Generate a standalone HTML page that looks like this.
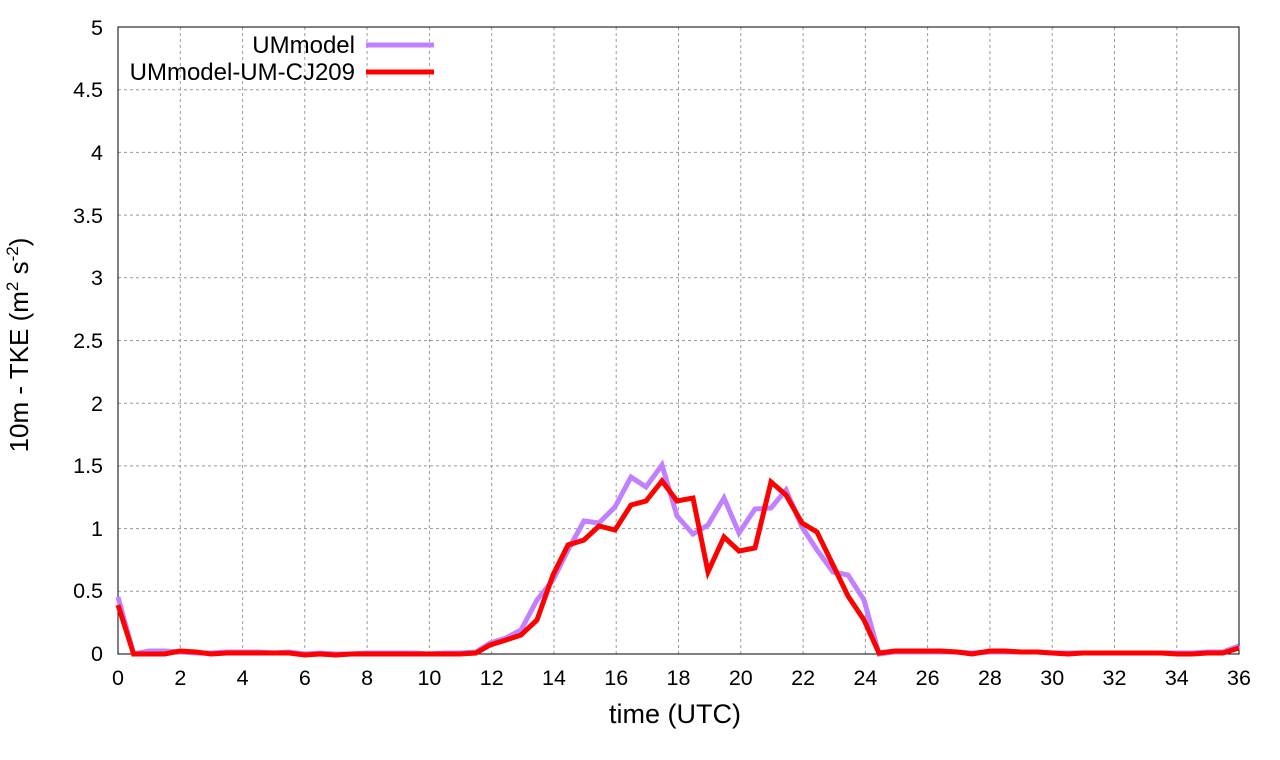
<!DOCTYPE html>
<html><head><style>body{margin:0;background:#fff}svg{display:block}text{font-family:"Liberation Sans",sans-serif;fill:#000}</style></head><body>
<svg width="1280" height="760" xmlns="http://www.w3.org/2000/svg">
<g stroke="#999" stroke-width="1" stroke-dasharray="3,3">
<line x1="118" x2="1239" y1="591.3" y2="591.3"/><line x1="118" x2="1239" y1="528.6" y2="528.6"/><line x1="118" x2="1239" y1="465.9" y2="465.9"/><line x1="118" x2="1239" y1="403.2" y2="403.2"/><line x1="118" x2="1239" y1="340.5" y2="340.5"/><line x1="118" x2="1239" y1="277.8" y2="277.8"/><line x1="118" x2="1239" y1="215.1" y2="215.1"/><line x1="118" x2="1239" y1="152.4" y2="152.4"/><line x1="118" x2="1239" y1="89.7" y2="89.7"/>
<line x1="180.3" x2="180.3" y1="27" y2="654"/><line x1="242.6" x2="242.6" y1="27" y2="654"/><line x1="304.8" x2="304.8" y1="27" y2="654"/><line x1="367.1" x2="367.1" y1="27" y2="654"/><line x1="429.4" x2="429.4" y1="27" y2="654"/><line x1="491.7" x2="491.7" y1="27" y2="654"/><line x1="554" x2="554" y1="27" y2="654"/><line x1="616.2" x2="616.2" y1="27" y2="654"/><line x1="678.5" x2="678.5" y1="27" y2="654"/><line x1="740.8" x2="740.8" y1="27" y2="654"/><line x1="803.1" x2="803.1" y1="27" y2="654"/><line x1="865.4" x2="865.4" y1="27" y2="654"/><line x1="927.6" x2="927.6" y1="27" y2="654"/><line x1="989.9" x2="989.9" y1="27" y2="654"/><line x1="1052.2" x2="1052.2" y1="27" y2="654"/><line x1="1114.5" x2="1114.5" y1="27" y2="654"/><line x1="1176.8" x2="1176.8" y1="27" y2="654"/>
</g>
<rect x="118" y="27" width="1121" height="627" fill="none" stroke="#000" stroke-width="1"/>
<g font-size="21.5" text-anchor="end">
<text x="103" y="661">0</text><text x="103" y="598">0.5</text><text x="103" y="536">1</text><text x="103" y="473">1.5</text><text x="103" y="411">2</text><text x="103" y="348">2.5</text><text x="103" y="285">3</text><text x="103" y="223">3.5</text><text x="103" y="160">4</text><text x="103" y="97">4.5</text><text x="103" y="35">5</text>
</g>
<g font-size="21.5" text-anchor="middle">
<text x="118" y="685">0</text><text x="180.3" y="685">2</text><text x="242.6" y="685">4</text><text x="304.8" y="685">6</text><text x="367.1" y="685">8</text><text x="429.4" y="685">10</text><text x="491.7" y="685">12</text><text x="554" y="685">14</text><text x="616.2" y="685">16</text><text x="678.5" y="685">18</text><text x="740.8" y="685">20</text><text x="803.1" y="685">22</text><text x="865.4" y="685">24</text><text x="927.6" y="685">26</text><text x="989.9" y="685">28</text><text x="1052.2" y="685">30</text><text x="1114.5" y="685">32</text><text x="1176.8" y="685">34</text><text x="1239" y="685">36</text>
<text x="675" y="723" font-size="27">time (UTC)</text>
</g>
<text transform="translate(28,345) rotate(-90)" font-size="26" text-anchor="middle">10m - TKE (m<tspan font-size="17" dy="-10">2</tspan><tspan dy="10"> s</tspan><tspan font-size="17" dy="-10">-2</tspan><tspan dy="10">)</tspan></text>
<g font-size="24" text-anchor="end"><text x="355" y="53">UMmodel</text><text x="355" y="80">UMmodel-UM-CJ209</text></g>
<line x1="366" x2="434" y1="45" y2="45" stroke="#c080ff" stroke-width="5"/>
<line x1="366" x2="434" y1="72" y2="72" stroke="#f00" stroke-width="5"/>
<polyline fill="none" stroke="#c080ff" stroke-width="5" stroke-linejoin="miter" points="118,597 133.6,654 149,651 164.7,651 180,652 196,653 211,653 227,652 242.6,652 258,652 274,653 289,652 304.8,654 320,653 336,654 351,654 367,653 383,653 398,653 414,653 429,654 445,653 460,653 476,652 490,643 506,638 521,630 537,600 553,580 568,550 584,521 599,523 615,507 631,477 646,487 662,465 677,516 693,534 708,525 724,498 739,533 755,509 771,508 786,490 802,527 817,550 833,572 848,575 864,600 879,654 895,652 910,652 926,652 941,652 957,652 972,653 990,652 1005,652 1021,652 1037,652 1052,653 1068,653 1083,653 1099,653 1114,653 1130,653 1145,653 1161,653 1177,653 1192,653 1208,652 1223,652 1239,646"/>
<polyline fill="none" stroke="#f00" stroke-width="5" stroke-linejoin="miter" points="118,605 133.6,654 149,654 164.7,654 180,651 196,652 211,654 227,653 242.6,653 258,653 274,653 289,653 304.8,655 320,654 336,655 351,654 367,654 383,654 398,654 414,654 429,654 445,654 460,654 476,653 490,645 506,640 521,635 537,620 553,575 568,545 584,540 599,526 615,530 631,505 646,501 662,481 677,501 693,498 708,572 724,537 739,551 755,548 771,482 786,495 802,523 817,532 833,565 848,596 864,620 879,653 895,651 910,651 926,651 941,651 957,652 972,654 990,651 1005,651 1021,652 1037,652 1052,653 1068,654 1083,653 1099,653 1114,653 1130,653 1145,653 1161,653 1177,654 1192,654 1208,653 1223,653 1239,648"/>
</svg>
</body></html>
